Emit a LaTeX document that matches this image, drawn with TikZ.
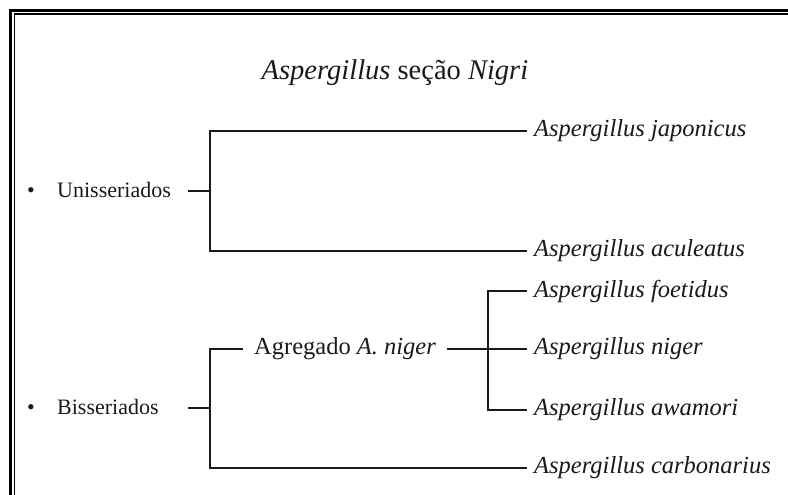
\documentclass[tikz,border=0pt]{standalone}
\usepackage{fontspec}
\setmainfont{Liberation Serif}
\usetikzlibrary{positioning, calc}

\begin{document}
\begin{tikzpicture}[
  x=1pt, y=-1pt,
  branch/.style={draw=cInk, line width=1.8pt},
  leaf/.style={anchor=west, inner xsep=7pt, inner ysep=0pt,
               font=\fontsize{24.5}{28}\selectfont\itshape, text=cInk},
  group/.style={anchor=base west, inner sep=0pt,
                font=\fontsize{22}{26}\selectfont, text=cInk},
]
\definecolor{cInk}{HTML}{1A1A1A}   % text and branches

% ---------- page and double frame ----------
\useasboundingbox (0,0) rectangle (788,495);
\clip (0,0) rectangle (788,495);
\fill[white] (0,0) rectangle (788,495);
\draw[black, line width=3pt] (10.5,10.5) rectangle (900,600);
\draw[black, line width=1.6pt] (14.3,14.3) rectangle (900,600);

% ---------- title ----------
\node[anchor=base, inner sep=0pt, text=cInk,
      font=\fontsize{28.5}{32}\selectfont] (title) at (395,80)
  {\textit{Aspergillus} seção \textit{Nigri}};

% ---------- groups ----------
\node[group] (uniDot) at (27,197) {•};
\node[group] (uni) at (57,197) {Unisseriados};
\node[group] (bisDot) at (27,414) {•};
\node[group] (bis) at (57,414) {Bisseriados};

\coordinate (uniStub) at (188,191);
\coordinate (uniFork) at (210,191);
\coordinate (bisStub) at (188,408);
\coordinate (bisFork) at (210,408);
\coordinate (aggFork) at (488,349);

% ---------- species ----------
\node[leaf] (japonicus)   at (527,131) {Aspergillus japonicus};
\node[leaf] (aculeatus)   at (527,251) {Aspergillus aculeatus};
\node[leaf] (foetidus)    at (527,291) {Aspergillus foetidus};
\node[leaf] (niger)       at (527,349) {Aspergillus niger};
\node[leaf] (awamori)     at (527,410) {Aspergillus awamori};
\node[leaf] (carbonarius) at (527,468) {Aspergillus carbonarius};

% ---------- aggregate ----------
\node[anchor=west, inner xsep=11pt, inner ysep=0pt, text=cInk,
      font=\fontsize{24.5}{28}\selectfont] (agg) at (243,349)
  {Agregado \textit{A. niger}};

% ---------- branches ----------
\draw[branch] (uniStub) -- (uniFork);
\draw[branch] (japonicus.west) -| (uniFork);
\draw[branch] (aculeatus.west) -| (uniFork);

\draw[branch] (bisStub) -- (bisFork);
\draw[branch] (agg.west) -| (bisFork);
\draw[branch] (carbonarius.west) -| (bisFork);

\draw[branch] (agg.east) -- (niger.west);
\draw[branch] (foetidus.west) -| (aggFork);
\draw[branch] (awamori.west) -| (aggFork);

\end{tikzpicture}
\end{document}
